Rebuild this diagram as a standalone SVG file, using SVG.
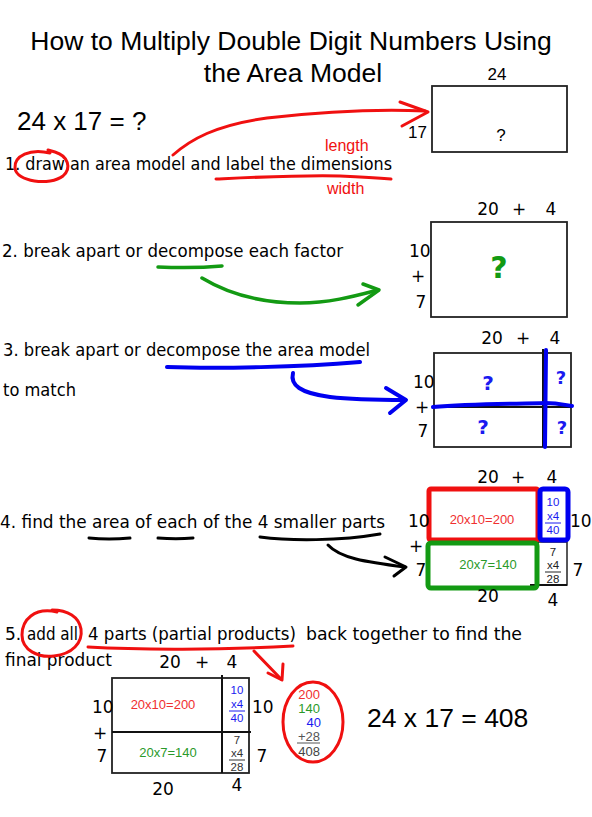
<svg xmlns="http://www.w3.org/2000/svg" width="592" height="817" viewBox="0 0 592 817">
<style>
.t{font-family:"Liberation Sans",Arial,sans-serif;fill:#000}
.h{font-family:"DejaVu Sans","Liberation Sans",sans-serif;font-size:17px;fill:#000}
.n{font-family:"DejaVu Sans","Liberation Sans",sans-serif;font-size:17px;fill:#000}
.s{font-family:"Liberation Sans",Arial,sans-serif;font-size:13px}
.c{font-family:"Liberation Sans",Arial,sans-serif;font-size:11.5px}
.box{fill:#fff;stroke:#222;stroke-width:1.8}
.ln{fill:none;stroke:#111;stroke-width:2}
.r{fill:none;stroke:#f01010;stroke-width:3;stroke-linecap:round;stroke-linejoin:round}
.g{fill:none;stroke:#139a13;stroke-width:3.5;stroke-linecap:round;stroke-linejoin:round}
.b{fill:none;stroke:#0000f0;stroke-width:4;stroke-linecap:round;stroke-linejoin:round}
.k{fill:none;stroke:#000;stroke-width:3;stroke-linecap:round;stroke-linejoin:round}
.q{font-family:"DejaVu Sans","Liberation Sans",sans-serif;font-weight:bold}
</style>
<rect width="592" height="817" fill="#fff"/>

<g id="title">
<text class="t" x="291" y="50" font-size="26.5" text-anchor="middle">How to Multiply Double Digit Numbers Using</text>
<text class="t" x="293" y="82" font-size="26.5" text-anchor="middle">the Area Model</text>
</g>

<g id="equation">
<text class="t" x="17" y="130" font-size="26">24 x 17 = ?</text>
</g>

<g id="step1">
<text class="h" x="5" y="170" textLength="387" lengthAdjust="spacingAndGlyphs">1. draw an area model and label the dimensions</text>
<text class="t" x="325" y="151" font-size="16" style="fill:#f01010">length</text>
<text class="t" x="327" y="194" font-size="16" style="fill:#f01010">width</text>
<path class="r" d="M50,153 C30,148 14,156 15,168 C16,182 50,186 63,176 C72,168 68,156 55,152 L48,150"/>
<path class="r" d="M216,179 C260,177 300,175 340,176 C365,177 380,178 391,179"/>
</g>

<g id="box1">
<rect class="box" x="432" y="86" width="135" height="66"/>
<text class="t" x="497" y="80" font-size="17" text-anchor="middle">24</text>
<text class="t" x="408" y="138" font-size="17">17</text>
<text class="t" x="501" y="141" font-size="17" text-anchor="middle">?</text>
</g>

<g id="step2">
<text class="h" x="2" y="257" textLength="341" lengthAdjust="spacingAndGlyphs">2. break apart or decompose each factor</text>
<path class="g" d="M158,267 C180,268 200,268 222,266"/>
</g>

<g id="box2">
<rect class="box" x="431" y="222" width="136" height="95"/>
<text class="n" x="488" y="215" text-anchor="middle">20</text>
<text class="n" x="519" y="215" text-anchor="middle" font-size="14">+</text>
<text class="n" x="551" y="215" text-anchor="middle">4</text>
<text class="n" x="409" y="257">10</text>
<text class="n" x="418" y="282" text-anchor="middle" font-size="14">+</text>
<text class="n" x="421" y="308" text-anchor="middle">7</text>
<text class="q" x="499" y="278" font-size="30" text-anchor="middle" fill="#139a13">?</text>
</g>

<g id="step3">
<text class="h" x="3" y="356" textLength="367" lengthAdjust="spacingAndGlyphs">3. break apart or decompose the area model</text>
<text class="h" x="3" y="396" textLength="73" lengthAdjust="spacingAndGlyphs">to match</text>
<path class="b" d="M167,367 C220,369 300,367 360,362"/>
</g>

<g id="box3">
<rect class="box" x="434" y="353" width="137" height="94"/>
<line class="ln" x1="434" y1="407" x2="571" y2="407"/>
<line class="ln" x1="543" y1="349" x2="543" y2="447"/>
<path class="b" d="M546,350 L545,447"/>
<path class="b" d="M433,407 C470,404 510,404 545,403 C558,403 565,405 572,406"/>
<text class="n" x="492" y="344" text-anchor="middle">20</text>
<text class="n" x="523" y="344" text-anchor="middle" font-size="14">+</text>
<text class="n" x="555" y="344" text-anchor="middle">4</text>
<text class="n" x="413" y="388">10</text>
<text class="n" x="422" y="413" text-anchor="middle" font-size="14">+</text>
<text class="n" x="423" y="437" text-anchor="middle">7</text>
<text class="q" x="488" y="390" font-size="20" text-anchor="middle" fill="#1a1af0">?</text>
<text class="q" x="483" y="434" font-size="20" text-anchor="middle" fill="#1a1af0">?</text>
<text class="q" x="561" y="384" font-size="18" text-anchor="middle" fill="#1a1af0">?</text>
<text class="q" x="562" y="434" font-size="18" text-anchor="middle" fill="#1a1af0">?</text>
</g>

<g id="step4">
<text class="h" x="0" y="528" textLength="385" lengthAdjust="spacingAndGlyphs">4. find the area of each of the 4 smaller parts</text>
<path class="k" d="M89,538 C100,539 118,539 130,538" stroke-width="4"/>
<path class="k" d="M158,538 C170,539 182,539 193,538" stroke-width="4"/>
<path class="k" d="M260,537 C290,541 340,541 380,534" stroke-width="2.5"/>
</g>

<g id="box4">
<rect x="538" y="542" width="29" height="43" fill="#fff" stroke="#222" stroke-width="1.5"/>
<line class="ln" x1="530" y1="585" x2="567" y2="585"/>
<rect x="429" y="489" width="109" height="51" rx="2" fill="none" stroke="#f01010" stroke-width="5"/>
<rect x="540" y="489" width="28" height="51" rx="3" fill="none" stroke="#0000f0" stroke-width="5"/>
<rect x="428" y="543" width="109" height="45" rx="3" fill="none" stroke="#139a13" stroke-width="5"/>
<text class="n" x="488" y="483" text-anchor="middle">20</text>
<text class="n" x="518" y="483" text-anchor="middle" font-size="14">+</text>
<text class="n" x="552" y="483" text-anchor="middle">4</text>
<text class="n" x="408" y="527">10</text>
<text class="n" x="416" y="552" text-anchor="middle" font-size="14">+</text>
<text class="n" x="421" y="576" text-anchor="middle">7</text>
<text class="s" x="482" y="524" text-anchor="middle" fill="#f03030">20x10=200</text>
<text class="s" x="488" y="569" text-anchor="middle" fill="#2a9a2a">20x7=140</text>
<text class="c" x="553" y="506" text-anchor="middle" fill="#1a1af0">10</text>
<text class="c" x="553" y="520" text-anchor="middle" fill="#1a1af0">x4</text>
<line x1="545" y1="523" x2="561" y2="523" stroke="#1a1af0" stroke-width="1"/>
<text class="c" x="553" y="534" text-anchor="middle" fill="#1a1af0">40</text>
<text class="c" x="553" y="556" text-anchor="middle" fill="#222">7</text>
<text class="c" x="553" y="569" text-anchor="middle" fill="#222">x4</text>
<line x1="545" y1="572" x2="561" y2="572" stroke="#222" stroke-width="1"/>
<text class="c" x="553" y="583" text-anchor="middle" fill="#222">28</text>
<text class="n" x="570" y="527">10</text>
<text class="n" x="578" y="576" text-anchor="middle">7</text>
<text class="n" x="488" y="602" text-anchor="middle">20</text>
<text class="n" x="553" y="606" text-anchor="middle">4</text>
</g>

<g id="step5">
<text class="h" x="5" y="640">5.</text>
<text class="h" x="27" y="640" textLength="51" lengthAdjust="spacingAndGlyphs">add all</text>
<text class="h" x="88" y="640" textLength="208" lengthAdjust="spacingAndGlyphs">4 parts (partial products)</text>
<text class="h" x="306" y="640" textLength="216" lengthAdjust="spacingAndGlyphs">back together to find the</text>
<text class="h" x="5" y="666" textLength="107" lengthAdjust="spacingAndGlyphs">final product</text>
<path class="r" d="M57,612 C34,607 22,620 22,635 C22,650 38,658 54,656 C72,654 83,643 81,629 C79,617 68,610 52,610"/>
<path class="r" d="M88,647 C140,650 220,650 293,646"/>
</g>

<g id="box5">
<rect class="box" x="112" y="678" width="137" height="95" stroke-width="2"/>
<line class="ln" x1="112" y1="732" x2="251" y2="732"/>
<line class="ln" x1="222" y1="675" x2="222" y2="773"/>
<text class="n" x="170" y="668" text-anchor="middle">20</text>
<text class="n" x="202" y="668" text-anchor="middle" font-size="14">+</text>
<text class="n" x="232" y="668" text-anchor="middle">4</text>
<text class="n" x="92" y="713">10</text>
<text class="n" x="100" y="739" text-anchor="middle" font-size="14">+</text>
<text class="n" x="102" y="762" text-anchor="middle">7</text>
<text class="s" x="163" y="709" text-anchor="middle" fill="#f03030">20x10=200</text>
<text class="s" x="168" y="757" text-anchor="middle" fill="#2a9a2a">20x7=140</text>
<text class="c" x="237" y="694" text-anchor="middle" fill="#1a1af0">10</text>
<text class="c" x="237" y="708" text-anchor="middle" fill="#1a1af0">x4</text>
<line x1="229" y1="711" x2="245" y2="711" stroke="#1a1af0" stroke-width="1"/>
<text class="c" x="237" y="722" text-anchor="middle" fill="#1a1af0">40</text>
<text class="c" x="237" y="744" text-anchor="middle" fill="#333">7</text>
<text class="c" x="237" y="757" text-anchor="middle" fill="#333">x4</text>
<line x1="229" y1="760" x2="245" y2="760" stroke="#333" stroke-width="1"/>
<text class="c" x="237" y="771" text-anchor="middle" fill="#333">28</text>
<text class="n" x="252" y="713">10</text>
<text class="n" x="262" y="762" text-anchor="middle">7</text>
<text class="n" x="163" y="795" text-anchor="middle">20</text>
<text class="n" x="237" y="791" text-anchor="middle">4</text>
</g>

<g id="sum">
<ellipse cx="313" cy="722" rx="30" ry="40" fill="none" stroke="#f01010" stroke-width="3"/>
<text class="s" x="320" y="699" text-anchor="end" fill="#f03030" font-size="14">200</text>
<text class="s" x="320" y="713" text-anchor="end" fill="#2a9a2a" font-size="14">140</text>
<text class="s" x="321" y="727" text-anchor="end" fill="#1a1af0" font-size="14">40</text>
<text class="s" x="320" y="741" text-anchor="end" fill="#555" font-size="14">+28</text>
<line x1="297" y1="743" x2="320" y2="743" stroke="#555" stroke-width="1"/>
<text class="s" x="320" y="756" text-anchor="end" fill="#444" font-size="14">408</text>
</g>

<g id="answer">
<text class="t" x="367" y="727" font-size="26.5">24 x 17 = 408</text>
</g>

<g id="connectors">
<path class="r" d="M173,155 C190,140 215,125 267,118 C320,112 380,109 425,111"/>
<path class="r" d="M400,102 L428,112 L402,126"/>
<path class="g" d="M202,278 C235,298 270,303 300,303 C330,303 355,296 378,290"/>
<path class="g" d="M363,284 L379,290 L358,305"/>
<path class="b" d="M293,373 C290,385 300,393 330,397 C355,400 380,400 405,400"/>
<path class="b" d="M386,388 L406,400 L390,413"/>
<path class="k" d="M328,545 C340,558 365,562 405,567"/>
<path class="k" d="M385,557 L406,567 L394,576"/>
<path class="r" d="M254,651 L281,679"/>
<path class="r" d="M268,673 L282,680 L283,664"/>
</g>
</svg>
